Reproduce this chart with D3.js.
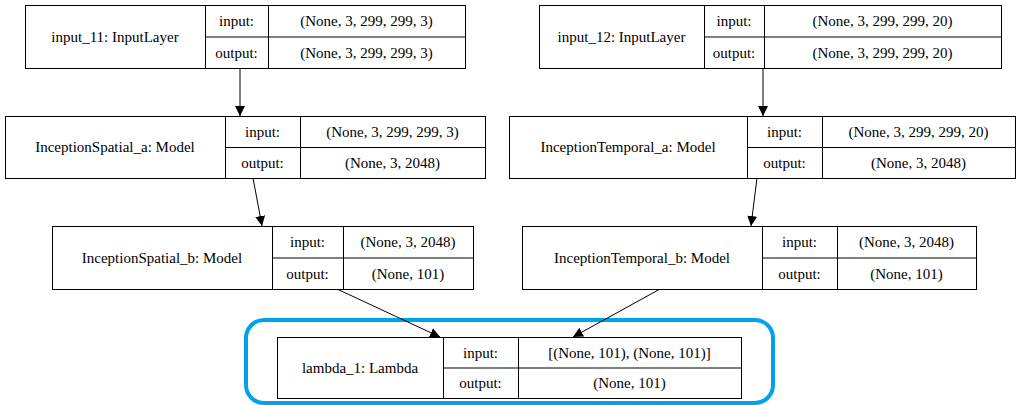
<!DOCTYPE html>
<html><head><meta charset="utf-8">
<script src="https://cdn.jsdelivr.net/npm/d3@7"></script>
<style>body{margin:0;background:#fff}svg{display:block}</style>
</head><body>
<svg id="chart" width="1021" height="405"></svg>
<script>
// layer nodes: name, input shape, output shape
var layerNames = ['input_11: InputLayer','input_12: InputLayer','InceptionSpatial_a: Model','InceptionTemporal_a: Model','InceptionSpatial_b: Model','InceptionTemporal_b: Model','lambda_1: Lambda'];
var layerInputs = ['(None, 3, 299, 299, 3)','(None, 3, 299, 299, 20)','(None, 3, 299, 299, 3)','(None, 3, 299, 299, 20)','(None, 3, 2048)','(None, 3, 2048)','[(None, 101), (None, 101)]'];
var layerOutputs = ['(None, 3, 299, 299, 3)','(None, 3, 299, 299, 20)','(None, 3, 2048)','(None, 3, 2048)','(None, 101)','(None, 101)','(None, 101)'];
// column edges per node: left, name|label, label|value, right
var layerCols = [[25,205,268,465],[539,704,764,1001],[5,225,300,485],[509,747,822,1015],[52,272,343,473],[522,762,837,976],[277,443,518,741]];
var layerRows = [[5,68],[5,68],[116,178],[116,178],[226,289],[226,289],[337,398]];
var edges = [[0,2],[1,3],[2,4],[3,5],[4,6],[5,6]];
var edgeEnds = [[240,240],[763,763],[253,262],[757,751],[337,440],[660,573]];

var svg = d3.select('#chart');
svg.append('defs').append('marker').attr('id','arr').attr('viewBox','0 0 10 10')
	.attr('refX',10).attr('refY',5).attr('markerWidth',10).attr('markerHeight',10)
	.attr('markerUnits','userSpaceOnUse').attr('orient','auto')
	.append('path').attr('d','M0,0L10,5L0,10Z').attr('fill','#000');

// highlight around the lambda node
svg.append('rect').attr('x',246).attr('y',320).attr('width',527).attr('height',83)
	.attr('rx',18).attr('fill','none').attr('stroke','#00a2e8').attr('stroke-width',4);

edges.forEach(function(e,i){
	svg.append('line')
		.attr('x1',edgeEnds[i][0]).attr('y1',layerRows[e[0]][1])
		.attr('x2',edgeEnds[i][1]).attr('y2',layerRows[e[1]][0])
		.attr('stroke','#000').attr('stroke-width',1).attr('marker-end','url(#arr)');
});

var g = svg.selectAll('.node').data(layerNames).enter().append('g').attr('class','node');
g.each(function(d,i){
	var s = d3.select(this), c = layerCols[i], r = layerRows[i], mid = (r[0]+r[1])/2;
	s.append('rect').attr('x',c[0]+.5).attr('y',r[0]+.5).attr('width',c[3]-c[0]).attr('height',r[1]-r[0])
		.attr('fill','#fff').attr('stroke','#000');
	[c[1],c[2]].forEach(function(x){
		s.append('line').attr('x1',x+.5).attr('x2',x+.5).attr('y1',r[0]).attr('y2',r[1]).attr('stroke','#000');
	});
	s.append('line').attr('x1',c[1]).attr('x2',c[3]).attr('y1',mid+.5).attr('y2',mid+.5).attr('stroke','#000');
	var t = [[(c[0]+c[1])/2,mid,d],[(c[1]+c[2])/2,(r[0]+mid)/2,'input:'],[(c[1]+c[2])/2,(mid+r[1])/2,'output:'],
		[(c[2]+c[3])/2,(r[0]+mid)/2,layerInputs[i]],[(c[2]+c[3])/2,(mid+r[1])/2,layerOutputs[i]]];
	t.forEach(function(tt){
		s.append('text').attr('x',tt[0]).attr('y',tt[1]).attr('dy','0.35em').attr('text-anchor','middle')
			.attr('font-family','"Liberation Serif", "DejaVu Serif", serif').attr('font-size',15)
			.text(tt[2]);
	});
});
</script>
</body></html>
